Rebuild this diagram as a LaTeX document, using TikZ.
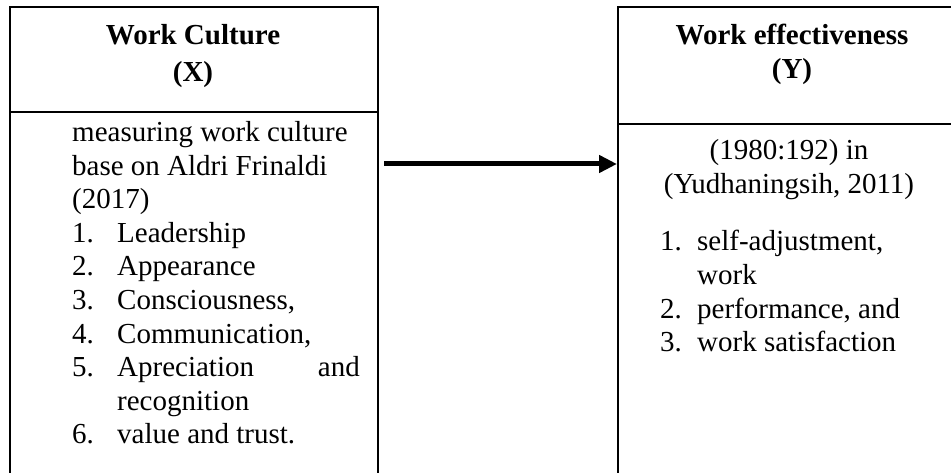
\documentclass[tikz,border=0pt]{standalone}
\usepackage{fontspec}
\setmainfont{Liberation Serif}
\usetikzlibrary{arrows.meta}
\tikzset{
  frame/.style={draw=black, line width=2pt, rectangle, inner sep=0pt, anchor=north west},
  hd/.style={font=\fontsize{29}{33.5}\selectfont\bfseries, inner sep=0pt, anchor=base},
  tx/.style={font=\fontsize{29}{33.5}\selectfont, inner sep=0pt, anchor=base west},
  txr/.style={font=\fontsize{29}{33.5}\selectfont, inner sep=0pt, anchor=base east},
  txc/.style={font=\fontsize{29}{33.5}\selectfont, inner sep=0pt, anchor=base},
  link/.style={line width=5pt, -{Triangle[length=18pt,width=17pt]}, shorten <=5pt}
}
\begin{document}
\begin{tikzpicture}[x=1pt,y=-1pt]
\useasboundingbox[fill=white] (0,0) rectangle (951,473);
% left box
\node[frame, minimum width=368pt, minimum height=105pt] (lh) at (9,6) {};
\node[frame, minimum width=368pt, minimum height=400pt] (lb) at (9,111) {};
% right box
\node[frame, minimum width=348pt, minimum height=117pt] (rh) at (617,6) {};
\node[frame, minimum width=348pt, minimum height=400pt] (rb) at (617,123) {};
% arrow
\coordinate (ay) at (0,164);
\draw[link] (lb.east |- ay) -- (rb.west |- ay);
% left header
\node[hd] (lh1) at (193,45) {Work Culture};
\node[hd] (lh2) at (193,82) {(X)};
% left body
\node[tx] (l1) at (72,142) {measuring work culture};
\node[tx] (l2) at (72,175.5) {base on Aldri Frinaldi};
\node[tx] (l3) at (72,209) {(2017)};
\node[tx] (n1) at (72,242.5) {1.};
\node[tx] (i1) at (117,242.5) {Leadership};
\node[tx] (n2) at (72,276) {2.};
\node[tx] (i2) at (117,276) {Appearance};
\node[tx] (n3) at (72,309.5) {3.};
\node[tx] (i3) at (117,309.5) {Consciousness,};
\node[tx] (n4) at (72,343) {4.};
\node[tx] (i4) at (117,343) {Communication,};
\node[tx] (n5) at (72,376.5) {5.};
\node[tx] (i5) at (117,376.5) {Apreciation};
\node[txr] (i5b) at (360,376.5) {and};
\node[tx] (i5c) at (117,410) {recognition};
\node[tx] (n6) at (72,443.5) {6.};
\node[tx] (i6) at (117,443.5) {value and trust.};
% right header
\node[hd] (rh1) at (792,45) {Work effectiveness};
\node[hd] (rh2) at (792,79) {(Y)};
% right body
\node[txc] (r1) at (789,160) {(1980:192) in};
\node[txc] (r2) at (789,193.5) {(Yudhaningsih, 2011)};
\node[tx] (m1) at (660,251) {1.};
\node[tx] (j1) at (697,251) {self-adjustment,};
\node[tx] (j1b) at (697,284.5) {work};
\node[tx] (m2) at (660,318) {2.};
\node[tx] (j2) at (697,318) {performance, and};
\node[tx] (m3) at (660,351.5) {3.};
\node[tx] (j3) at (697,351.5) {work satisfaction};
\end{tikzpicture}
\end{document}
